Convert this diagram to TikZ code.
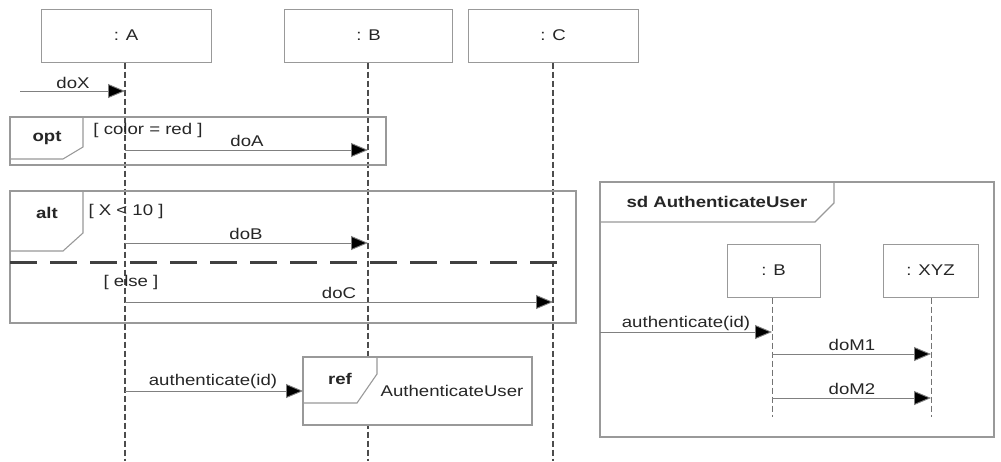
\documentclass[tikz,border=0pt]{standalone}
\usepackage{fontspec}
\setmainfont[FakeStretch=1.2]{Liberation Sans}
\usetikzlibrary{arrows.meta}
\begin{document}
\begin{tikzpicture}[x=1pt,y=-1pt,
  every node/.style={font=\fontsize{15.5}{17}\selectfont, text=black!85, inner sep=0pt},
  head/.style={draw=black!40, line width=1pt, fill=white, minimum height=53pt},
  life/.style={draw=black!70, line width=1.5pt, dash pattern=on 6pt off 3pt},
  frame/.style={draw=black!40, line width=1.1pt},
  msg/.style={draw=black!50, line width=0.9pt, -{Triangle[length=17pt,width=14pt,fill=black]}},
  sep/.style={draw=black!75, line width=3pt, dash pattern=on 27pt off 13pt},
  kw/.style={font=\fontsize{15.5}{17}\selectfont\bfseries},
]
\useasboundingbox (0,0) rectangle (1001,461);
\fill[white] (0,0) rectangle (1001,461);

% lifeline heads
\node[head, minimum width=170pt] (A) at (126,35.5) {: A};
\node[head, minimum width=168pt] (B) at (368.5,35.5) {: B};
\node[head, minimum width=170pt] (C) at (553,35.5) {: C};
\coordinate (Aend) at (125,461);
\coordinate (Bend) at (368,461);
\coordinate (Cend) at (553,461);
\draw[life] (A.south -| Aend) -- (Aend);
\draw[life] (B.south -| Bend) -- (Bend);
\draw[life] (C.south -| Cend) -- (Cend);

% doX
\coordinate (xs) at (20,91);
\coordinate (xa) at (125,91);
\draw[msg] (xs) -- (xa);
\node (lx) at (73,83) {doX};

% opt frame
\draw[frame] (10,117) rectangle (386,165);
\draw[frame] (83,117) -- (83,147) -- (63,159) -- (10,159);
\node[kw] (opt) at (47,138) {opt};
\node (g1) at (148,130) {[ color = red ]};
\coordinate (a1) at (125,150);
\coordinate (b1) at (368,150);
\draw[msg] (a1) -- (b1);
\node (lA) at (247,141) {doA};

% alt frame
\draw[frame] (10,191) rectangle (576,323);
\draw[frame] (83,191) -- (83,233) -- (63,251) -- (10,251);
\node[kw] (alt) at (47,213) {alt};
\node (g2) at (126,211) {[ X < 10 ]};
\coordinate (a2) at (125,243);
\coordinate (b2) at (368,243);
\draw[msg] (a2) -- (b2);
\node (lB) at (246,234) {doB};
\coordinate (s1) at (10,262);
\coordinate (s2) at (563,262);
\draw[sep] (s1) -- (s2);
\node (g3) at (131,282) {[ else ]};
\coordinate (a3) at (125,302);
\coordinate (c3) at (553,302);
\draw[msg] (a3) -- (c3);
\node (lC) at (339,293) {doC};

% ref frame
\draw[frame, fill=white] (303,357) rectangle (532,425);
\draw[frame] (377,357) -- (377,374) -- (357,403) -- (303,403);
\node[kw] (ref) at (340,379) {ref};
\node (refname) at (452,391) {AuthenticateUser};
\coordinate (a4) at (125,391);
\coordinate (r4) at (303,391);
\draw[msg] (a4) -- (r4);
\node (lauth) at (213,381) {authenticate(id)};

% sd frame
\draw[frame] (600,182) rectangle (994,437);
\draw[frame] (834,182) -- (834,203) -- (815,222) -- (600,222);
\node[kw] (sd) at (717,202) {sd AuthenticateUser};
\node[head, minimum width=93pt] (B2) at (773.5,270.5) {: B};
\node[head, minimum width=95pt] (X) at (930.5,270.5) {: XYZ};
\coordinate (B2end) at (772,417);
\coordinate (Xend) at (931,417);
\draw[life, line width=1pt, draw=black!55] (B2.south -| B2end) -- (B2end);
\draw[life, line width=1pt, draw=black!55] (X.south -| Xend) -- (Xend);
\coordinate (s5) at (600,332);
\coordinate (b5) at (772,332);
\draw[msg] (s5) -- (b5);
\node (lauth2) at (686,323) {authenticate(id)};
\coordinate (b6) at (772,354);
\coordinate (x6) at (931,354);
\draw[msg] (b6) -- (x6);
\node (lM1) at (852,345) {doM1};
\coordinate (b7) at (772,398);
\coordinate (x7) at (931,398);
\draw[msg] (b7) -- (x7);
\node (lM2) at (852,389) {doM2};
\end{tikzpicture}
\end{document}
